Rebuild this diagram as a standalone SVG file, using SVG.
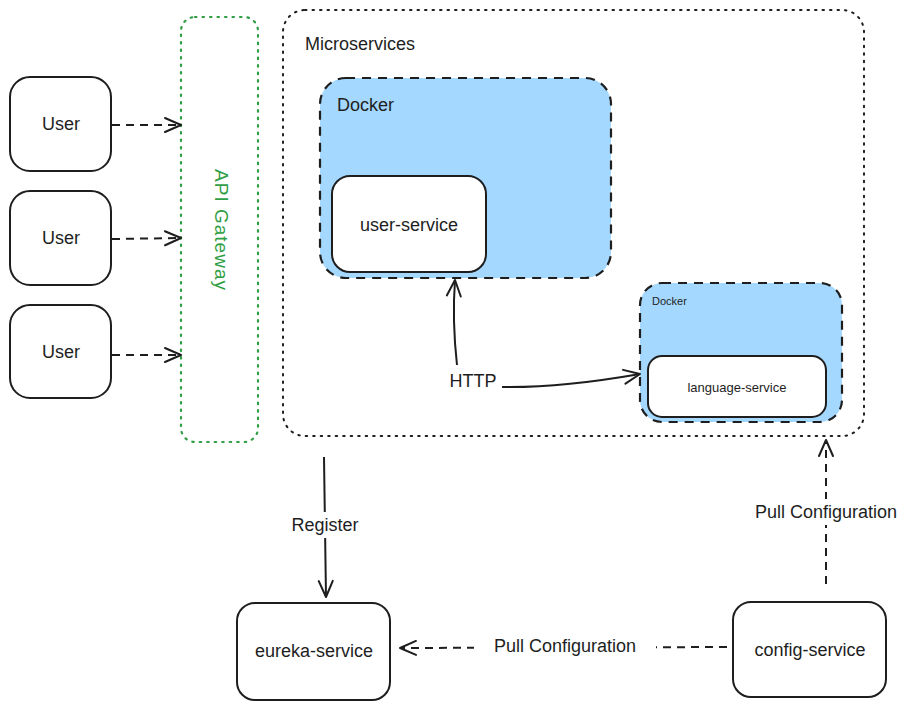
<svg xmlns="http://www.w3.org/2000/svg" width="921" height="709" viewBox="0 0 921 709">
<defs>
<marker id="ah" viewBox="0 0 20 20" refX="18" refY="10" markerWidth="20" markerHeight="20" markerUnits="userSpaceOnUse" orient="auto">
<path d="M2 3 L18 10 L2 17" fill="none" stroke="#1e1e1e" stroke-width="2" stroke-linecap="round" stroke-linejoin="round"/>
</marker>
</defs>
<style>
text{font-family:"Liberation Sans",Arial,sans-serif;fill:#1e1e1e;font-size:18px}
.c{text-anchor:middle;dominant-baseline:central}
.box{fill:#fff;stroke:#1e1e1e;stroke-width:2}
.dock{fill:#a5d8ff;stroke:#1e1e1e;stroke-width:2.2;stroke-dasharray:9 7}
.dot{fill:none;stroke:#1e1e1e;stroke-width:2;stroke-dasharray:1.5 6;stroke-linecap:round}
.gdot{fill:none;stroke:#2f9e44;stroke-width:2.2;stroke-dasharray:1.5 6;stroke-linecap:round}
.ln{fill:none;stroke:#1e1e1e;stroke-width:2;marker-end:url(#ah)}
.dash{stroke-dasharray:8 6}
.bg{fill:#fff}
</style>
<rect width="921" height="709" fill="#fff"/>
<g id="microservices">
<rect class="dot" x="283" y="10" width="581" height="426" rx="22"/>
<text x="305" y="50">Microservices</text>
</g>
<g id="api-gateway">
<rect class="gdot" x="181" y="17" width="77" height="425" rx="14"/>
<text class="c" transform="translate(221 230) rotate(90)" style="fill:#2f9e44;font-size:19px;letter-spacing:1px">API Gateway</text>
</g>
<g id="user1"><rect class="box" x="10" y="77" width="101" height="94" rx="20"/><text class="c" x="61" y="124">User</text></g>
<g id="user2"><rect class="box" x="10" y="191" width="101" height="94" rx="20"/><text class="c" x="61" y="238">User</text></g>
<g id="user3"><rect class="box" x="10" y="305" width="101" height="93" rx="20"/><text class="c" x="61" y="352">User</text></g>
<g id="docker1">
<rect class="dock" x="320" y="78" width="291" height="200" rx="26"/>
<text x="337" y="111">Docker</text>
</g>
<g id="user-service"><rect class="box" x="332" y="176" width="154" height="96" rx="18"/><text class="c" x="409" y="225">user-service</text></g>
<g id="docker2">
<rect class="dock" x="640" y="283" width="202" height="139" rx="22"/>
<text x="652" y="305" style="font-size:11px">Docker</text>
</g>
<g id="language-service"><rect class="box" x="648" y="356" width="178" height="61" rx="14"/><text class="c" x="737" y="387" style="font-size:13px">language-service</text></g>
<g id="eureka-service"><rect class="box" x="237" y="603" width="153" height="97" rx="18"/><text class="c" x="314" y="651">eureka-service</text></g>
<g id="config-service"><rect class="box" x="733" y="602" width="153" height="95" rx="18"/><text class="c" x="810" y="650">config-service</text></g>
<g id="connectors">
<path class="ln dash" d="M112 125 L181 125"/>
<path class="ln dash" d="M112 239 L181 238"/>
<path class="ln dash" d="M112 355 L181 355"/>
<path class="ln" d="M457 365 Q452 320 455 280"/>
<path class="ln" d="M502 387 Q560 388 640 374"/>
<text class="c" x="473" y="381">HTTP</text>
<path class="ln" d="M324 457 L326 597"/>
<rect class="bg" x="282" y="512" width="86" height="26"/>
<text class="c" x="325" y="525">Register</text>
<path class="ln dash" d="M727 647 L400 648"/>
<rect class="bg" x="474" y="633" width="182" height="26"/>
<text class="c" x="565" y="646">Pull Configuration</text>
<path class="ln dash" d="M826 584 L826 440"/>
<rect class="bg" x="738" y="499" width="176" height="26"/>
<text class="c" x="826" y="512">Pull Configuration</text>
</g>
</svg>
